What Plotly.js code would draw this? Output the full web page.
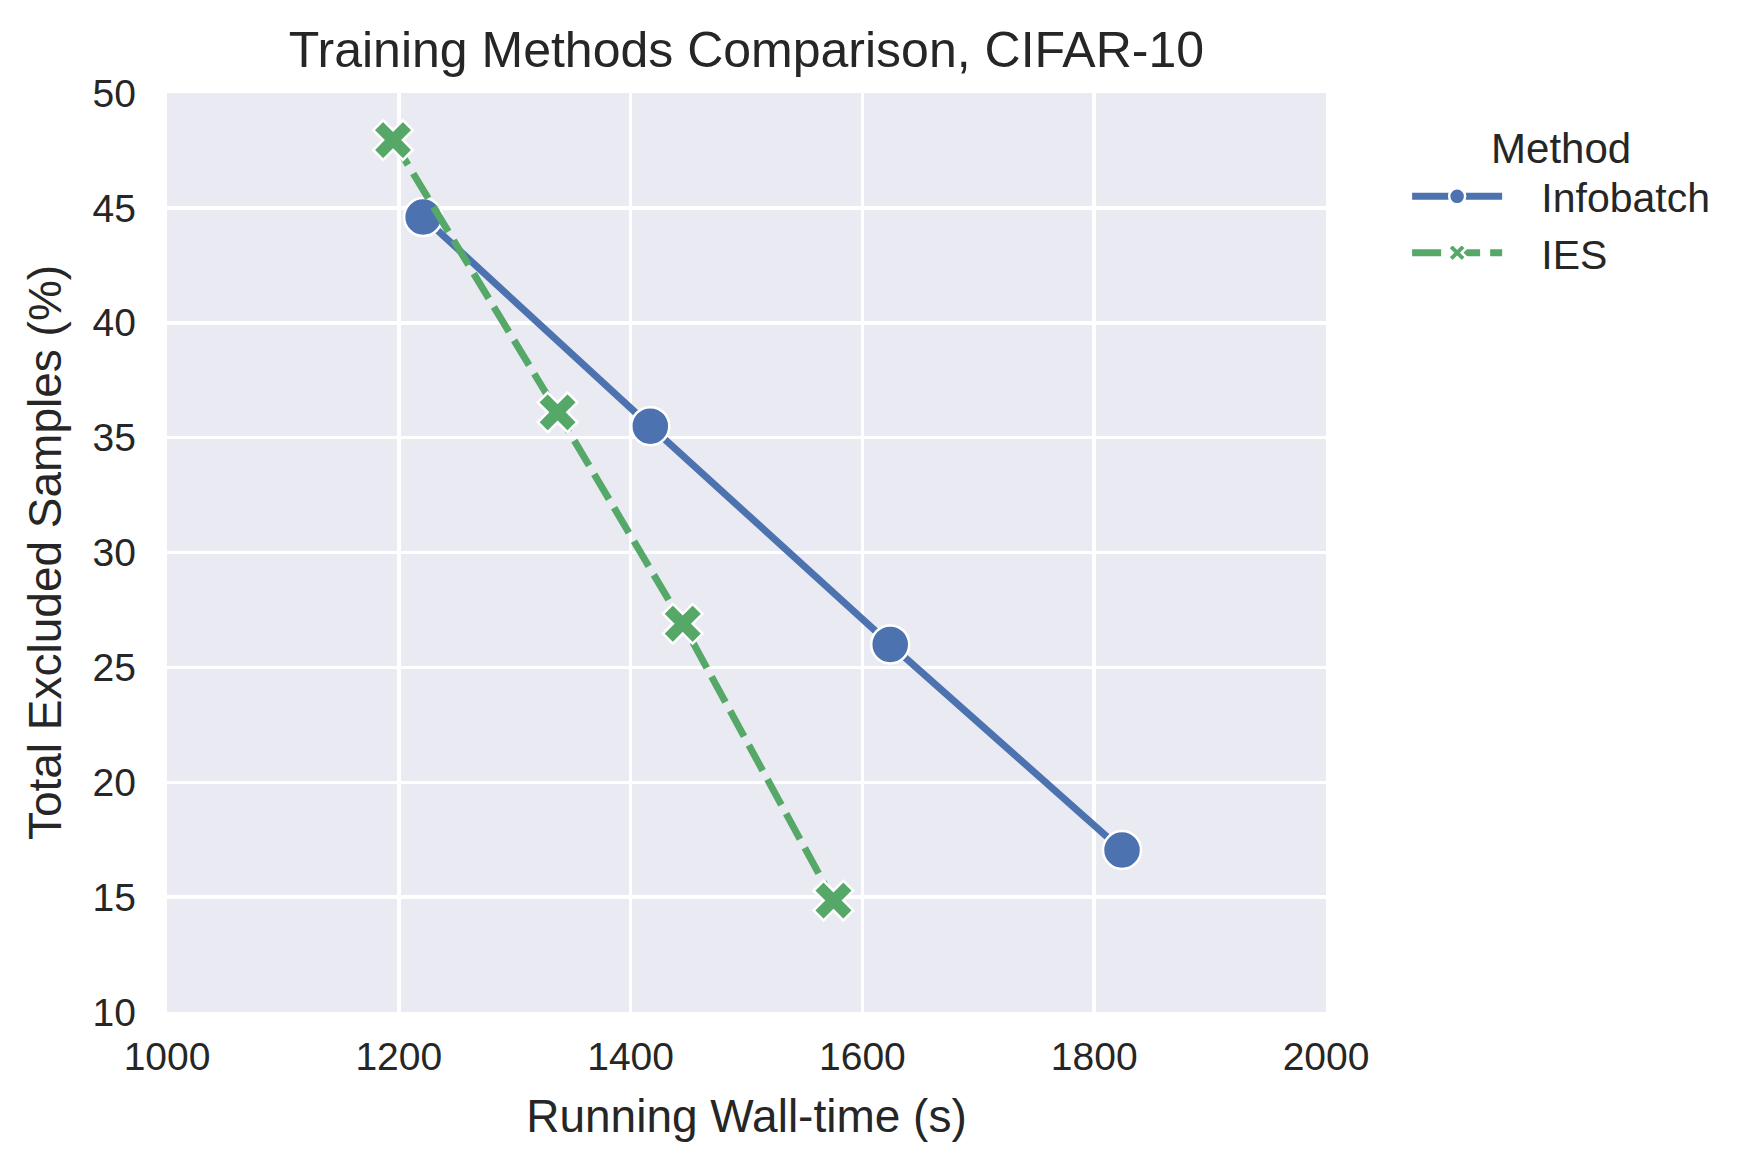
<!DOCTYPE html>
<html>
<head>
<meta charset="utf-8">
<script src="https://cdn.plot.ly/plotly-3.0.1.min.js"></script>
<style>
  html, body { margin: 0; padding: 0; background: #ffffff; }
  #chart { width: 1758px; height: 1170px; }
</style>
</head>
<body>
<div id="chart"></div>
<script>
// values
const infobatchTime = [1221, 1417, 1624, 1824];
const infobatchExcluded = [44.6, 35.5, 26.0, 17.05];
const iesTime = [1195, 1337, 1445, 1575];
const iesExcluded = [47.95, 36.1, 26.9, 14.85];

const xTicks = [1000, 1200, 1400, 1600, 1800, 2000];
const yTicks = [10, 15, 20, 25, 30, 35, 40, 45, 50];

const textColor = "#262626";
const fontFamily = "Liberation Sans, Arial, sans-serif";
// small gap between the legend line sample and its label
const legendGap = "\u00a0\u00a0\u00a0";

let infobatchTrace = {
    x: infobatchTime,
    y: infobatchExcluded,
    name: legendGap + "Infobatch",
    mode: "lines+markers",
    type: "scatter",
    line: { color: "#4C72B0", width: 7 },
    marker: {
        symbol: "circle",
        size: 38,
        color: "#4C72B0",
        line: { color: "#ffffff", width: 2.5 }
    }
};

let iesTrace = {
    x: iesTime,
    y: iesExcluded,
    name: legendGap + "IES",
    mode: "lines+markers",
    type: "scatter",
    line: { color: "#55A868", width: 7, dash: "29px,10px" },
    marker: {
        symbol: "x",
        size: 35,
        color: "#55A868",
        line: { color: "#ffffff", width: 2.5 }
    }
};

let axisCommon = {
    showline: false,
    zeroline: false,
    ticks: "",
    gridcolor: "#ffffff",
    gridwidth: 3.5,
    tickfont: { family: fontFamily, size: 39, color: textColor },
    fixedrange: true
};

let layout = {
    width: 1758,
    height: 1170,
    margin: { l: 167, r: 432, t: 93, b: 158 },
    paper_bgcolor: "#ffffff",
    plot_bgcolor: "#EAEAF2",
    font: { family: fontFamily, color: textColor },
    title: {
        text: "Training Methods Comparison, CIFAR-10",
        font: { family: fontFamily, size: 50, color: textColor },
        x: 0.4246,
        xanchor: "center",
        y: 0.943,
        yanchor: "bottom"
    },
    xaxis: Object.assign({}, axisCommon, {
        range: [1000, 2000],
        tickvals: xTicks,
        ticktext: xTicks.map(String),
        ticklabelstandoff: 18,
        title: {
            text: "Running Wall-time (s)",
            font: { family: fontFamily, size: 46, color: textColor },
            standoff: 22
        }
    }),
    yaxis: Object.assign({}, axisCommon, {
        range: [10, 50],
        tickvals: yTicks,
        ticktext: yTicks.map(String),
        ticklabelstandoff: 30,
        title: {
            text: "Total Excluded Samples (%)",
            font: { family: fontFamily, size: 46, color: textColor },
            standoff: 16
        }
    }),
    showlegend: true,
    legend: {
        x: 1.07,
        xanchor: "left",
        y: 0.983,
        yanchor: "top",
        bgcolor: "rgba(0,0,0,0)",
        font: { family: fontFamily, size: 41, color: textColor },
        title: {
            text: "Method",
            side: "top center",
            font: { family: fontFamily, size: 42, color: textColor }
        },
        itemwidth: 90,
        tracegroupgap: 0
    }
};

Plotly.newPlot("chart", [infobatchTrace, iesTrace], layout, { showLink: false, displayModeBar: false, staticPlot: true });
</script>
</body>
</html>
